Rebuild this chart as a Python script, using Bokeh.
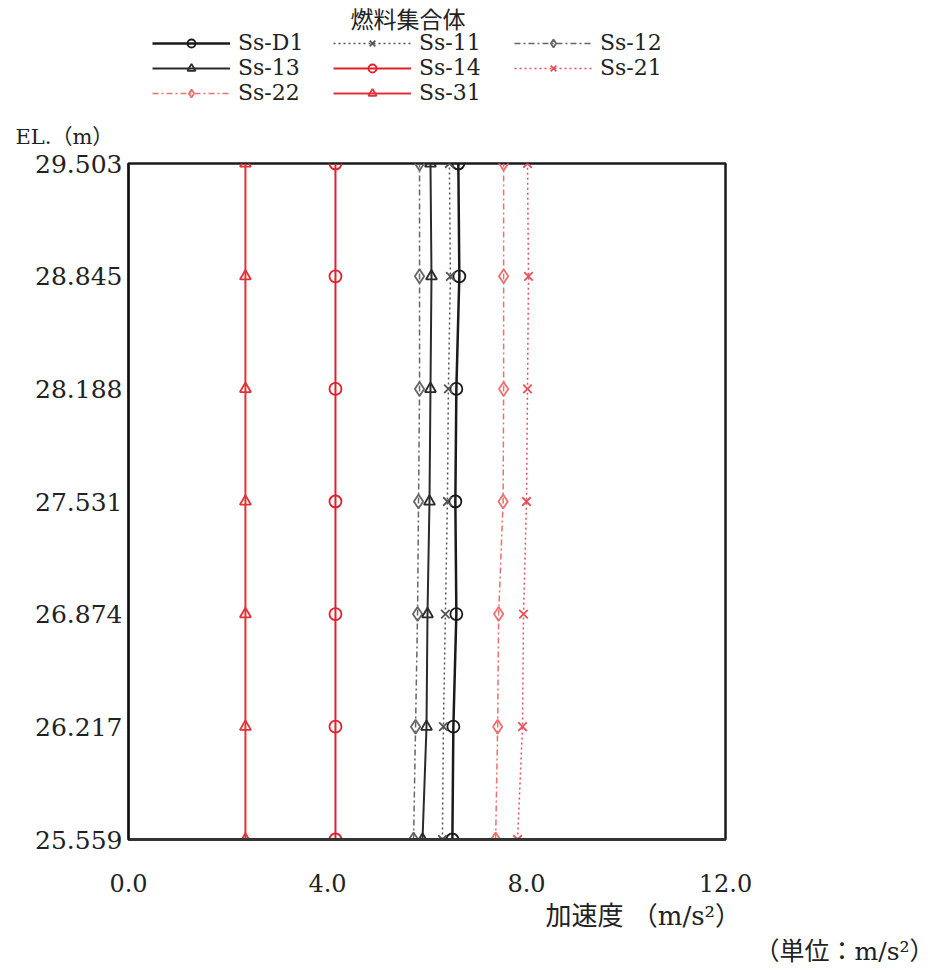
from bokeh.plotting import figure
from bokeh.models import FixedTicker, PrintfTickFormatter, Legend, Range1d, Title, Label
from bokeh.layouts import column
from bokeh.embed import file_html
from bokeh.resources import INLINE

# ---- data ----
elevation = [25.559, 26.217, 26.874, 27.531, 28.188, 28.845, 29.503]
x_ticks = [0, 4, 8, 12]

ss_d1 = [6.51, 6.53, 6.59, 6.57, 6.59, 6.65, 6.63]
ss_11 = [6.31, 6.33, 6.37, 6.41, 6.43, 6.47, 6.45]
ss_12 = [5.73, 5.77, 5.81, 5.83, 5.85, 5.85, 5.85]
ss_13 = [5.91, 5.99, 6.01, 6.05, 6.07, 6.09, 6.07]
ss_14 = [4.16, 4.16, 4.16, 4.16, 4.16, 4.16, 4.16]
ss_21 = [7.82, 7.92, 7.94, 8.00, 8.02, 8.04, 8.02]
ss_22 = [7.38, 7.42, 7.44, 7.53, 7.54, 7.54, 7.54]
ss_31 = [2.35, 2.35, 2.35, 2.35, 2.35, 2.35, 2.35]

# ---- styles ----
series = [
    ("Ss-D1", ss_d1, "#1a1a1a", "solid", 2.5, "circle", 12),
    ("Ss-11", ss_11, "#555555", "2 3", 1.5, "x", 12),
    ("Ss-12", ss_12, "#666666", "6 3 2 3", 1.5, "diamond", 14),
    ("Ss-13", ss_13, "#2a2a2a", "solid", 2.0, "triangle", 11),
    ("Ss-14", ss_14, "#e0202a", "solid", 2.0, "circle", 12),
    ("Ss-21", ss_21, "#e8505a", "2 3", 1.5, "x", 12),
    ("Ss-22", ss_22, "#ee7070", "6 3 2 3", 1.5, "diamond", 14),
    ("Ss-31", ss_31, "#e43038", "solid", 2.0, "triangle", 11),
]
# legend fills column by column; this order reads row by row like the reference
legend_order = [0, 3, 6, 1, 4, 7, 2, 5]

NUM_FONT = "DejaVu Serif"
CJK_FONT = "Noto Sans CJK JP"
MIX_FONT = "DejaVu Serif, Noto Sans CJK JP"
TXT = "#222222"
W = 940
TOP_H = 105

# ---------- header figure: title and legend ----------
head = figure(width=W, height=TOP_H, output_backend="svg", toolbar_location=None,
              x_range=Range1d(100, 101), y_range=Range1d(100, 101),
              x_axis_location=None, y_axis_location=None,
              min_border=0, outline_line_color=None)
head.grid.visible = False

renderers = []
for name, vals, color, dash, lw, marker, size in series:
    r1 = head.line(vals, elevation, line_color=color, line_dash=dash, line_width=lw)
    r2 = head.scatter(vals, elevation, marker=marker, size=size, line_color=color,
                      fill_color=None, line_width=1.8)
    renderers.append((name, [r1, r2]))
legend_items = [renderers[i] for i in legend_order]

legend = Legend(items=legend_items, ncols=3, location=(24, 0),
                glyph_width=78, glyph_height=20, label_width=95,
                label_standoff=8, spacing=-1, padding=2, margin=0,
                label_text_font=NUM_FONT, label_text_font_size="22px",
                label_text_color=TXT,
                background_fill_alpha=0, border_line_color=None)
head.add_layout(legend, "center")

head.add_layout(Label(x=222, y=TOP_H - 17, x_units="screen", y_units="screen",
                      text="燃料集合体", text_font=CJK_FONT, text_font_size="23px",
                      text_color=TXT, text_align="left", text_baseline="middle"))

# ---------- main figure ----------
MAIN_H = 965 - TOP_H
p = figure(width=W, height=MAIN_H, output_backend="svg", toolbar_location=None,
           x_range=Range1d(0, 12), y_range=Range1d(elevation[0], elevation[-1]),
           min_border_left=128, min_border_right=W - 725, min_border_top=163 - TOP_H,
           min_border_bottom=MAIN_H - (163 - TOP_H) - 677)
p.grid.visible = False
p.outline_line_color = "#1a1a1a"
p.outline_line_width = 2.5

for name, vals, color, dash, lw, marker, size in series:
    p.line(vals, elevation, line_color=color, line_dash=dash, line_width=lw)
    p.scatter(vals, elevation, marker=marker, size=size, line_color=color,
              fill_color=None, line_width=1.8)

xa = p.xaxis[0]
xa.ticker = FixedTicker(ticks=x_ticks)
xa.formatter = PrintfTickFormatter(format="%.1f")
xa.major_tick_line_color = None
xa.minor_tick_line_color = None
xa.axis_line_width = 3
xa.axis_line_color = "#333333"
xa.major_label_text_font = NUM_FONT
xa.major_label_text_font_size = "24px"
xa.major_label_text_color = TXT
xa.major_label_standoff = 28

ya = p.yaxis[0]
ya.ticker = FixedTicker(ticks=elevation)
ya.formatter = PrintfTickFormatter(format="%.3f")
ya.major_tick_line_color = None
ya.minor_tick_line_color = None
ya.axis_line_color = "#111111"
ya.axis_line_width = 2
ya.major_label_text_font = NUM_FONT
ya.major_label_text_font_size = "25px"
ya.major_label_text_color = TXT
ya.major_label_standoff = 0

def side_title(text, side, offset, size, standoff):
    p.add_layout(Title(text=text, align="left", offset=offset, text_font=MIX_FONT,
                       text_font_size=size, text_font_style="normal",
                       text_color=TXT, standoff=standoff), side)

side_title("EL.（m）", "above", -113, "21px", 30)
side_title("加速度 （m/s²）", "below", 417, "26px", 8)
side_title("（単位：m/s²）", "below", 626, "25px", 0)

layout = column(head, p, spacing=0)
open("out.html", "w").write(file_html(layout, INLINE))
